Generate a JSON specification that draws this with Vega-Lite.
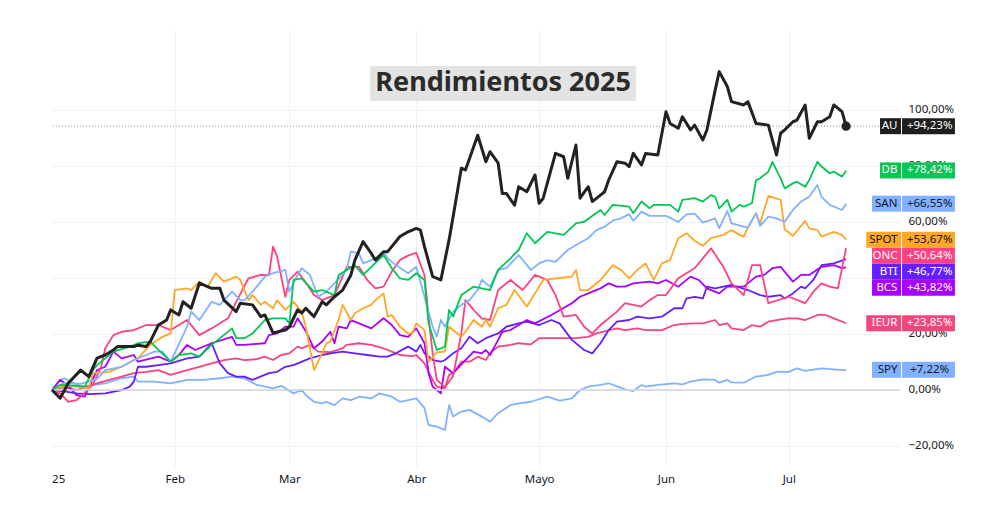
{
"$schema": "https://vega.github.io/schema/vega-lite/v6.json",
"width": 848, "height": 436,
"autosize": {"type": "none"},
"padding": {"left": 52, "top": 30, "right": 100, "bottom": 40},
"background": "white",
"config": {"view": {"stroke": null}, "font": "Noto Sans", "axis": {"labelFont": "Noto Sans", "labelFontSize": 11.5, "labelColor": "#131722"}},
"datasets": {
"lines": [
{"s":"SPY","d":"2025-01-02","v":0},{"s":"SPY","d":"2025-01-04","v":3.6},{"s":"SPY","d":"2025-01-05","v":4.2},{"s":"SPY","d":"2025-01-09","v":1.2},{"s":"SPY","d":"2025-01-15","v":2.4},{"s":"SPY","d":"2025-01-19","v":4.2},{"s":"SPY","d":"2025-01-22","v":4.8},{"s":"SPY","d":"2025-01-23","v":3},{"s":"SPY","d":"2025-01-27","v":3},{"s":"SPY","d":"2025-01-31","v":2.4},{"s":"SPY","d":"2025-02-04","v":3.6},{"s":"SPY","d":"2025-02-08","v":3.6},{"s":"SPY","d":"2025-02-12","v":4.2},{"s":"SPY","d":"2025-02-15","v":4.8},{"s":"SPY","d":"2025-02-18","v":4.2},{"s":"SPY","d":"2025-02-21","v":1.8},{"s":"SPY","d":"2025-02-25","v":0.6},{"s":"SPY","d":"2025-02-27","v":1.5},{"s":"SPY","d":"2025-03-02","v":-1.2},{"s":"SPY","d":"2025-03-04","v":0},{"s":"SPY","d":"2025-03-05","v":-1.8},{"s":"SPY","d":"2025-03-07","v":-4.2},{"s":"SPY","d":"2025-03-09","v":-4.8},{"s":"SPY","d":"2025-03-10","v":-4.2},{"s":"SPY","d":"2025-03-12","v":-5.4},{"s":"SPY","d":"2025-03-14","v":-3},{"s":"SPY","d":"2025-03-16","v":-3.6},{"s":"SPY","d":"2025-03-18","v":-2.4},{"s":"SPY","d":"2025-03-21","v":-3},{"s":"SPY","d":"2025-03-23","v":-1.2},{"s":"SPY","d":"2025-03-26","v":-2.4},{"s":"SPY","d":"2025-03-28","v":-4.2},{"s":"SPY","d":"2025-04-01","v":-3},{"s":"SPY","d":"2025-04-03","v":-6.5},{"s":"SPY","d":"2025-04-04","v":-12.5},{"s":"SPY","d":"2025-04-06","v":-13.1},{"s":"SPY","d":"2025-04-08","v":-14.3},{"s":"SPY","d":"2025-04-09","v":-5.4},{"s":"SPY","d":"2025-04-10","v":-9.5},{"s":"SPY","d":"2025-04-12","v":-7.7},{"s":"SPY","d":"2025-04-14","v":-7.1},{"s":"SPY","d":"2025-04-17","v":-9.5},{"s":"SPY","d":"2025-04-19","v":-11.3},{"s":"SPY","d":"2025-04-21","v":-8.3},{"s":"SPY","d":"2025-04-24","v":-5.4},{"s":"SPY","d":"2025-04-26","v":-4.8},{"s":"SPY","d":"2025-04-29","v":-4.2},{"s":"SPY","d":"2025-05-03","v":-2.4},{"s":"SPY","d":"2025-05-06","v":-3.8},{"s":"SPY","d":"2025-05-09","v":-3},{"s":"SPY","d":"2025-05-11","v":0},{"s":"SPY","d":"2025-05-13","v":1.2},{"s":"SPY","d":"2025-05-16","v":1.8},{"s":"SPY","d":"2025-05-18","v":2.4},{"s":"SPY","d":"2025-05-22","v":0.2},{"s":"SPY","d":"2025-05-24","v":-0.4},{"s":"SPY","d":"2025-05-26","v":1.8},{"s":"SPY","d":"2025-05-27","v":1.2},{"s":"SPY","d":"2025-05-30","v":1.8},{"s":"SPY","d":"2025-06-03","v":2.4},{"s":"SPY","d":"2025-06-05","v":2},{"s":"SPY","d":"2025-06-07","v":3},{"s":"SPY","d":"2025-06-10","v":3.8},{"s":"SPY","d":"2025-06-13","v":3.6},{"s":"SPY","d":"2025-06-14","v":2.6},{"s":"SPY","d":"2025-06-16","v":3.6},{"s":"SPY","d":"2025-06-17","v":2.7},{"s":"SPY","d":"2025-06-20","v":2.6},{"s":"SPY","d":"2025-06-23","v":4.8},{"s":"SPY","d":"2025-06-26","v":5.4},{"s":"SPY","d":"2025-06-28","v":6.5},{"s":"SPY","d":"2025-07-01","v":6.5},{"s":"SPY","d":"2025-07-03","v":7.7},{"s":"SPY","d":"2025-07-05","v":6.8},{"s":"SPY","d":"2025-07-09","v":7.7},{"s":"SPY","d":"2025-07-12","v":7.4},{"s":"SPY","d":"2025-07-14","v":7.1},{"s":"SPY","d":"2025-07-15","v":7.22},
{"s":"IEUR","d":"2025-01-02","v":0},{"s":"IEUR","d":"2025-01-05","v":1},{"s":"IEUR","d":"2025-01-08","v":0},{"s":"IEUR","d":"2025-01-13","v":2.4},{"s":"IEUR","d":"2025-01-16","v":3.6},{"s":"IEUR","d":"2025-01-19","v":4.8},{"s":"IEUR","d":"2025-01-22","v":6},{"s":"IEUR","d":"2025-01-25","v":6.5},{"s":"IEUR","d":"2025-01-28","v":7.1},{"s":"IEUR","d":"2025-01-31","v":5.4},{"s":"IEUR","d":"2025-02-04","v":7.1},{"s":"IEUR","d":"2025-02-07","v":8.3},{"s":"IEUR","d":"2025-02-10","v":9.5},{"s":"IEUR","d":"2025-02-13","v":10.7},{"s":"IEUR","d":"2025-02-16","v":11.3},{"s":"IEUR","d":"2025-02-18","v":10.7},{"s":"IEUR","d":"2025-02-21","v":11},{"s":"IEUR","d":"2025-02-23","v":11.9},{"s":"IEUR","d":"2025-02-25","v":10.7},{"s":"IEUR","d":"2025-02-27","v":12.5},{"s":"IEUR","d":"2025-03-01","v":13.1},{"s":"IEUR","d":"2025-03-03","v":15.5},{"s":"IEUR","d":"2025-03-04","v":14.9},{"s":"IEUR","d":"2025-03-06","v":16.1},{"s":"IEUR","d":"2025-03-08","v":13.7},{"s":"IEUR","d":"2025-03-11","v":13.5},{"s":"IEUR","d":"2025-03-14","v":14.9},{"s":"IEUR","d":"2025-03-15","v":16.1},{"s":"IEUR","d":"2025-03-18","v":16.7},{"s":"IEUR","d":"2025-03-21","v":16.1},{"s":"IEUR","d":"2025-03-24","v":14.9},{"s":"IEUR","d":"2025-03-26","v":13.7},{"s":"IEUR","d":"2025-03-28","v":12.5},{"s":"IEUR","d":"2025-03-31","v":12.1},{"s":"IEUR","d":"2025-04-01","v":12.5},{"s":"IEUR","d":"2025-04-03","v":9.5},{"s":"IEUR","d":"2025-04-05","v":3.6},{"s":"IEUR","d":"2025-04-06","v":1.2},{"s":"IEUR","d":"2025-04-08","v":0.6},{"s":"IEUR","d":"2025-04-09","v":5.4},{"s":"IEUR","d":"2025-04-10","v":6},{"s":"IEUR","d":"2025-04-12","v":10.1},{"s":"IEUR","d":"2025-04-14","v":10.1},{"s":"IEUR","d":"2025-04-16","v":11.9},{"s":"IEUR","d":"2025-04-18","v":10.7},{"s":"IEUR","d":"2025-04-19","v":13.1},{"s":"IEUR","d":"2025-04-21","v":15.5},{"s":"IEUR","d":"2025-04-24","v":16.1},{"s":"IEUR","d":"2025-04-26","v":16.7},{"s":"IEUR","d":"2025-04-29","v":16.3},{"s":"IEUR","d":"2025-05-01","v":18.5},{"s":"IEUR","d":"2025-05-05","v":18.5},{"s":"IEUR","d":"2025-05-10","v":18.5},{"s":"IEUR","d":"2025-05-13","v":19},{"s":"IEUR","d":"2025-05-15","v":20.2},{"s":"IEUR","d":"2025-05-20","v":22},{"s":"IEUR","d":"2025-05-22","v":21.4},{"s":"IEUR","d":"2025-05-25","v":22},{"s":"IEUR","d":"2025-05-27","v":21.4},{"s":"IEUR","d":"2025-05-31","v":21.4},{"s":"IEUR","d":"2025-06-03","v":23.2},{"s":"IEUR","d":"2025-06-05","v":23.6},{"s":"IEUR","d":"2025-06-08","v":23.8},{"s":"IEUR","d":"2025-06-10","v":23.8},{"s":"IEUR","d":"2025-06-13","v":25},{"s":"IEUR","d":"2025-06-14","v":23.2},{"s":"IEUR","d":"2025-06-16","v":23.8},{"s":"IEUR","d":"2025-06-17","v":22},{"s":"IEUR","d":"2025-06-20","v":21.4},{"s":"IEUR","d":"2025-06-22","v":23.2},{"s":"IEUR","d":"2025-06-24","v":22.6},{"s":"IEUR","d":"2025-06-26","v":24.4},{"s":"IEUR","d":"2025-06-29","v":25.2},{"s":"IEUR","d":"2025-07-01","v":25.6},{"s":"IEUR","d":"2025-07-03","v":25.6},{"s":"IEUR","d":"2025-07-05","v":25},{"s":"IEUR","d":"2025-07-08","v":26.8},{"s":"IEUR","d":"2025-07-10","v":26.8},{"s":"IEUR","d":"2025-07-12","v":25.6},{"s":"IEUR","d":"2025-07-15","v":23.85},
{"s":"BTI","d":"2025-01-02","v":0},{"s":"BTI","d":"2025-01-05","v":-0.5},{"s":"BTI","d":"2025-01-08","v":-1.2},{"s":"BTI","d":"2025-01-11","v":-1.5},{"s":"BTI","d":"2025-01-15","v":-1.2},{"s":"BTI","d":"2025-01-19","v":0},{"s":"BTI","d":"2025-01-21","v":1.2},{"s":"BTI","d":"2025-01-22","v":3},{"s":"BTI","d":"2025-01-23","v":8.3},{"s":"BTI","d":"2025-01-25","v":8.3},{"s":"BTI","d":"2025-01-28","v":8.9},{"s":"BTI","d":"2025-01-31","v":9.5},{"s":"BTI","d":"2025-02-04","v":11.3},{"s":"BTI","d":"2025-02-07","v":11.9},{"s":"BTI","d":"2025-02-10","v":16.7},{"s":"BTI","d":"2025-02-12","v":9.5},{"s":"BTI","d":"2025-02-14","v":6},{"s":"BTI","d":"2025-02-16","v":4.8},{"s":"BTI","d":"2025-02-18","v":4.8},{"s":"BTI","d":"2025-02-20","v":3.6},{"s":"BTI","d":"2025-02-24","v":6},{"s":"BTI","d":"2025-02-26","v":6.5},{"s":"BTI","d":"2025-02-28","v":8.3},{"s":"BTI","d":"2025-03-02","v":8.9},{"s":"BTI","d":"2025-03-06","v":11.3},{"s":"BTI","d":"2025-03-09","v":12.5},{"s":"BTI","d":"2025-03-11","v":13.1},{"s":"BTI","d":"2025-03-14","v":13.7},{"s":"BTI","d":"2025-03-17","v":13.1},{"s":"BTI","d":"2025-03-20","v":12.5},{"s":"BTI","d":"2025-03-23","v":11.9},{"s":"BTI","d":"2025-03-25","v":11.9},{"s":"BTI","d":"2025-03-27","v":13.1},{"s":"BTI","d":"2025-03-30","v":15.5},{"s":"BTI","d":"2025-04-01","v":13.7},{"s":"BTI","d":"2025-04-02","v":16.1},{"s":"BTI","d":"2025-04-03","v":13.1},{"s":"BTI","d":"2025-04-05","v":10.7},{"s":"BTI","d":"2025-04-07","v":10.1},{"s":"BTI","d":"2025-04-08","v":10.7},{"s":"BTI","d":"2025-04-10","v":13.1},{"s":"BTI","d":"2025-04-12","v":14.9},{"s":"BTI","d":"2025-04-14","v":19},{"s":"BTI","d":"2025-04-16","v":16.7},{"s":"BTI","d":"2025-04-18","v":18.5},{"s":"BTI","d":"2025-04-21","v":20.2},{"s":"BTI","d":"2025-04-23","v":22.6},{"s":"BTI","d":"2025-04-26","v":23.8},{"s":"BTI","d":"2025-04-28","v":24.4},{"s":"BTI","d":"2025-05-01","v":23.2},{"s":"BTI","d":"2025-05-04","v":25},{"s":"BTI","d":"2025-05-06","v":23.8},{"s":"BTI","d":"2025-05-09","v":17.9},{"s":"BTI","d":"2025-05-12","v":14.3},{"s":"BTI","d":"2025-05-14","v":13.1},{"s":"BTI","d":"2025-05-16","v":16.7},{"s":"BTI","d":"2025-05-18","v":21.4},{"s":"BTI","d":"2025-05-20","v":24.4},{"s":"BTI","d":"2025-05-23","v":25},{"s":"BTI","d":"2025-05-25","v":26.2},{"s":"BTI","d":"2025-05-28","v":25.6},{"s":"BTI","d":"2025-05-31","v":26.2},{"s":"BTI","d":"2025-06-03","v":29.2},{"s":"BTI","d":"2025-06-05","v":29.2},{"s":"BTI","d":"2025-06-06","v":32.7},{"s":"BTI","d":"2025-06-08","v":33.3},{"s":"BTI","d":"2025-06-10","v":32.7},{"s":"BTI","d":"2025-06-11","v":36.9},{"s":"BTI","d":"2025-06-13","v":36.3},{"s":"BTI","d":"2025-06-15","v":36.9},{"s":"BTI","d":"2025-06-17","v":37.5},{"s":"BTI","d":"2025-06-21","v":35.7},{"s":"BTI","d":"2025-06-24","v":33.9},{"s":"BTI","d":"2025-06-26","v":33.3},{"s":"BTI","d":"2025-06-29","v":33.9},{"s":"BTI","d":"2025-06-30","v":32.7},{"s":"BTI","d":"2025-07-02","v":34.5},{"s":"BTI","d":"2025-07-04","v":36.9},{"s":"BTI","d":"2025-07-05","v":36.3},{"s":"BTI","d":"2025-07-07","v":39.3},{"s":"BTI","d":"2025-07-09","v":44.6},{"s":"BTI","d":"2025-07-12","v":45.2},{"s":"BTI","d":"2025-07-15","v":46.77},
{"s":"BCS","d":"2025-01-02","v":0},{"s":"BCS","d":"2025-01-04","v":3.6},{"s":"BCS","d":"2025-01-06","v":1.5},{"s":"BCS","d":"2025-01-08","v":-1.8},{"s":"BCS","d":"2025-01-10","v":-2.4},{"s":"BCS","d":"2025-01-13","v":7.1},{"s":"BCS","d":"2025-01-15","v":8.3},{"s":"BCS","d":"2025-01-17","v":13.7},{"s":"BCS","d":"2025-01-19","v":11.3},{"s":"BCS","d":"2025-01-22","v":12.5},{"s":"BCS","d":"2025-01-23","v":10.1},{"s":"BCS","d":"2025-01-28","v":11.9},{"s":"BCS","d":"2025-01-31","v":10.1},{"s":"BCS","d":"2025-02-02","v":12.5},{"s":"BCS","d":"2025-02-04","v":16.1},{"s":"BCS","d":"2025-02-06","v":14.3},{"s":"BCS","d":"2025-02-07","v":14.9},{"s":"BCS","d":"2025-02-10","v":16.7},{"s":"BCS","d":"2025-02-15","v":19},{"s":"BCS","d":"2025-02-16","v":16.1},{"s":"BCS","d":"2025-02-18","v":16.1},{"s":"BCS","d":"2025-02-23","v":16.7},{"s":"BCS","d":"2025-02-24","v":19.6},{"s":"BCS","d":"2025-02-26","v":20.2},{"s":"BCS","d":"2025-02-28","v":22.6},{"s":"BCS","d":"2025-03-02","v":22.6},{"s":"BCS","d":"2025-03-03","v":25.6},{"s":"BCS","d":"2025-03-05","v":21},{"s":"BCS","d":"2025-03-07","v":14.9},{"s":"BCS","d":"2025-03-09","v":17.3},{"s":"BCS","d":"2025-03-11","v":20.8},{"s":"BCS","d":"2025-03-12","v":16.7},{"s":"BCS","d":"2025-03-13","v":22.6},{"s":"BCS","d":"2025-03-15","v":22},{"s":"BCS","d":"2025-03-16","v":25},{"s":"BCS","d":"2025-03-18","v":23.8},{"s":"BCS","d":"2025-03-21","v":22},{"s":"BCS","d":"2025-03-24","v":25.6},{"s":"BCS","d":"2025-03-26","v":23.2},{"s":"BCS","d":"2025-03-28","v":19.6},{"s":"BCS","d":"2025-03-30","v":19},{"s":"BCS","d":"2025-04-01","v":22},{"s":"BCS","d":"2025-04-03","v":16.7},{"s":"BCS","d":"2025-04-04","v":6},{"s":"BCS","d":"2025-04-05","v":1.2},{"s":"BCS","d":"2025-04-07","v":-1.2},{"s":"BCS","d":"2025-04-08","v":8.3},{"s":"BCS","d":"2025-04-10","v":6},{"s":"BCS","d":"2025-04-13","v":10.7},{"s":"BCS","d":"2025-04-15","v":13.7},{"s":"BCS","d":"2025-04-17","v":13.1},{"s":"BCS","d":"2025-04-18","v":14.3},{"s":"BCS","d":"2025-04-19","v":12.5},{"s":"BCS","d":"2025-04-21","v":17.9},{"s":"BCS","d":"2025-04-22","v":20.8},{"s":"BCS","d":"2025-04-24","v":21.4},{"s":"BCS","d":"2025-04-28","v":25},{"s":"BCS","d":"2025-04-30","v":23.8},{"s":"BCS","d":"2025-05-04","v":26.8},{"s":"BCS","d":"2025-05-09","v":31},{"s":"BCS","d":"2025-05-11","v":33.3},{"s":"BCS","d":"2025-05-13","v":34.5},{"s":"BCS","d":"2025-05-16","v":36.3},{"s":"BCS","d":"2025-05-18","v":38.1},{"s":"BCS","d":"2025-05-20","v":36.9},{"s":"BCS","d":"2025-05-22","v":36.9},{"s":"BCS","d":"2025-05-24","v":38.1},{"s":"BCS","d":"2025-05-28","v":38.7},{"s":"BCS","d":"2025-05-30","v":38.1},{"s":"BCS","d":"2025-06-01","v":39.3},{"s":"BCS","d":"2025-06-04","v":36.9},{"s":"BCS","d":"2025-06-07","v":40.5},{"s":"BCS","d":"2025-06-09","v":39.3},{"s":"BCS","d":"2025-06-11","v":36.3},{"s":"BCS","d":"2025-06-14","v":34.5},{"s":"BCS","d":"2025-06-16","v":36.9},{"s":"BCS","d":"2025-06-20","v":36.9},{"s":"BCS","d":"2025-06-23","v":40.5},{"s":"BCS","d":"2025-06-25","v":41.1},{"s":"BCS","d":"2025-06-27","v":43.5},{"s":"BCS","d":"2025-06-29","v":44},{"s":"BCS","d":"2025-07-02","v":38.7},{"s":"BCS","d":"2025-07-04","v":41.1},{"s":"BCS","d":"2025-07-06","v":41.1},{"s":"BCS","d":"2025-07-09","v":44},{"s":"BCS","d":"2025-07-12","v":44.6},{"s":"BCS","d":"2025-07-14","v":43.5},{"s":"BCS","d":"2025-07-15","v":43.82},
{"s":"ONC","d":"2025-01-02","v":0},{"s":"ONC","d":"2025-01-04","v":-1.2},{"s":"ONC","d":"2025-01-06","v":-4.2},{"s":"ONC","d":"2025-01-08","v":-3.6},{"s":"ONC","d":"2025-01-10","v":-1},{"s":"ONC","d":"2025-01-12","v":2},{"s":"ONC","d":"2025-01-14","v":8.3},{"s":"ONC","d":"2025-01-15","v":14.9},{"s":"ONC","d":"2025-01-17","v":19.6},{"s":"ONC","d":"2025-01-19","v":20.8},{"s":"ONC","d":"2025-01-22","v":21.4},{"s":"ONC","d":"2025-01-25","v":23.2},{"s":"ONC","d":"2025-01-28","v":23.2},{"s":"ONC","d":"2025-01-31","v":21.4},{"s":"ONC","d":"2025-02-04","v":25},{"s":"ONC","d":"2025-02-07","v":19.6},{"s":"ONC","d":"2025-02-10","v":22},{"s":"ONC","d":"2025-02-14","v":25.6},{"s":"ONC","d":"2025-02-16","v":31.5},{"s":"ONC","d":"2025-02-19","v":39.9},{"s":"ONC","d":"2025-02-22","v":41.1},{"s":"ONC","d":"2025-02-24","v":41},{"s":"ONC","d":"2025-02-25","v":51.2},{"s":"ONC","d":"2025-02-26","v":47.6},{"s":"ONC","d":"2025-02-28","v":33.3},{"s":"ONC","d":"2025-03-01","v":39.3},{"s":"ONC","d":"2025-03-03","v":42.3},{"s":"ONC","d":"2025-03-05","v":38.4},{"s":"ONC","d":"2025-03-07","v":33.9},{"s":"ONC","d":"2025-03-09","v":32.1},{"s":"ONC","d":"2025-03-12","v":33.9},{"s":"ONC","d":"2025-03-14","v":40.5},{"s":"ONC","d":"2025-03-15","v":44},{"s":"ONC","d":"2025-03-18","v":44},{"s":"ONC","d":"2025-03-20","v":39.3},{"s":"ONC","d":"2025-03-22","v":36.3},{"s":"ONC","d":"2025-03-24","v":36.9},{"s":"ONC","d":"2025-03-26","v":42.3},{"s":"ONC","d":"2025-03-28","v":46.4},{"s":"ONC","d":"2025-03-30","v":48},{"s":"ONC","d":"2025-04-01","v":49},{"s":"ONC","d":"2025-04-03","v":41},{"s":"ONC","d":"2025-04-04","v":26},{"s":"ONC","d":"2025-04-05","v":13.1},{"s":"ONC","d":"2025-04-06","v":3.6},{"s":"ONC","d":"2025-04-08","v":1},{"s":"ONC","d":"2025-04-10","v":5},{"s":"ONC","d":"2025-04-12","v":20.2},{"s":"ONC","d":"2025-04-13","v":32.1},{"s":"ONC","d":"2025-04-15","v":28.6},{"s":"ONC","d":"2025-04-17","v":25.6},{"s":"ONC","d":"2025-04-19","v":25},{"s":"ONC","d":"2025-04-21","v":35.7},{"s":"ONC","d":"2025-04-24","v":39.3},{"s":"ONC","d":"2025-04-27","v":35.7},{"s":"ONC","d":"2025-04-30","v":41.1},{"s":"ONC","d":"2025-05-03","v":39.3},{"s":"ONC","d":"2025-05-05","v":33.9},{"s":"ONC","d":"2025-05-07","v":26.2},{"s":"ONC","d":"2025-05-10","v":26.8},{"s":"ONC","d":"2025-05-12","v":22.6},{"s":"ONC","d":"2025-05-14","v":20.2},{"s":"ONC","d":"2025-05-16","v":23.2},{"s":"ONC","d":"2025-05-20","v":28},{"s":"ONC","d":"2025-05-22","v":31},{"s":"ONC","d":"2025-05-26","v":29.8},{"s":"ONC","d":"2025-05-28","v":32.1},{"s":"ONC","d":"2025-05-30","v":33.9},{"s":"ONC","d":"2025-06-01","v":33.9},{"s":"ONC","d":"2025-06-04","v":39.9},{"s":"ONC","d":"2025-06-08","v":43.5},{"s":"ONC","d":"2025-06-12","v":50.6},{"s":"ONC","d":"2025-06-15","v":44},{"s":"ONC","d":"2025-06-17","v":38.1},{"s":"ONC","d":"2025-06-20","v":33.9},{"s":"ONC","d":"2025-06-22","v":44.6},{"s":"ONC","d":"2025-06-24","v":44.6},{"s":"ONC","d":"2025-06-26","v":31},{"s":"ONC","d":"2025-07-01","v":33.3},{"s":"ONC","d":"2025-07-05","v":31},{"s":"ONC","d":"2025-07-07","v":35.1},{"s":"ONC","d":"2025-07-09","v":38.1},{"s":"ONC","d":"2025-07-11","v":36.9},{"s":"ONC","d":"2025-07-13","v":36.3},{"s":"ONC","d":"2025-07-15","v":50.64},
{"s":"SPOT","d":"2025-01-02","v":0},{"s":"SPOT","d":"2025-01-05","v":1.5},{"s":"SPOT","d":"2025-01-08","v":1.2},{"s":"SPOT","d":"2025-01-11","v":0.6},{"s":"SPOT","d":"2025-01-12","v":6},{"s":"SPOT","d":"2025-01-16","v":6.5},{"s":"SPOT","d":"2025-01-19","v":8.3},{"s":"SPOT","d":"2025-01-22","v":10.7},{"s":"SPOT","d":"2025-01-23","v":11.3},{"s":"SPOT","d":"2025-01-26","v":16.1},{"s":"SPOT","d":"2025-01-29","v":19},{"s":"SPOT","d":"2025-01-31","v":20.2},{"s":"SPOT","d":"2025-02-01","v":35.7},{"s":"SPOT","d":"2025-02-04","v":36.3},{"s":"SPOT","d":"2025-02-05","v":35.7},{"s":"SPOT","d":"2025-02-07","v":38.7},{"s":"SPOT","d":"2025-02-09","v":36.9},{"s":"SPOT","d":"2025-02-11","v":41.7},{"s":"SPOT","d":"2025-02-13","v":38.7},{"s":"SPOT","d":"2025-02-16","v":40.5},{"s":"SPOT","d":"2025-02-17","v":39.3},{"s":"SPOT","d":"2025-02-19","v":32.1},{"s":"SPOT","d":"2025-02-20","v":33.9},{"s":"SPOT","d":"2025-02-22","v":30.4},{"s":"SPOT","d":"2025-02-23","v":31.5},{"s":"SPOT","d":"2025-02-25","v":29.2},{"s":"SPOT","d":"2025-02-26","v":32.1},{"s":"SPOT","d":"2025-02-28","v":28.6},{"s":"SPOT","d":"2025-03-02","v":31.5},{"s":"SPOT","d":"2025-03-04","v":28},{"s":"SPOT","d":"2025-03-05","v":22.6},{"s":"SPOT","d":"2025-03-06","v":14.9},{"s":"SPOT","d":"2025-03-07","v":7.1},{"s":"SPOT","d":"2025-03-09","v":13.1},{"s":"SPOT","d":"2025-03-10","v":16.7},{"s":"SPOT","d":"2025-03-11","v":17.3},{"s":"SPOT","d":"2025-03-13","v":25},{"s":"SPOT","d":"2025-03-14","v":30.4},{"s":"SPOT","d":"2025-03-16","v":25},{"s":"SPOT","d":"2025-03-17","v":27.4},{"s":"SPOT","d":"2025-03-19","v":29.2},{"s":"SPOT","d":"2025-03-21","v":30.4},{"s":"SPOT","d":"2025-03-22","v":32.1},{"s":"SPOT","d":"2025-03-24","v":34.5},{"s":"SPOT","d":"2025-03-25","v":26.2},{"s":"SPOT","d":"2025-03-26","v":26.8},{"s":"SPOT","d":"2025-03-28","v":22.6},{"s":"SPOT","d":"2025-03-30","v":20.2},{"s":"SPOT","d":"2025-03-31","v":20.2},{"s":"SPOT","d":"2025-04-01","v":23.8},{"s":"SPOT","d":"2025-04-03","v":21.4},{"s":"SPOT","d":"2025-04-04","v":10.1},{"s":"SPOT","d":"2025-04-06","v":13.4},{"s":"SPOT","d":"2025-04-08","v":13.7},{"s":"SPOT","d":"2025-04-09","v":22.6},{"s":"SPOT","d":"2025-04-12","v":19},{"s":"SPOT","d":"2025-04-13","v":20.8},{"s":"SPOT","d":"2025-04-15","v":25},{"s":"SPOT","d":"2025-04-17","v":22.6},{"s":"SPOT","d":"2025-04-18","v":25},{"s":"SPOT","d":"2025-04-19","v":22.6},{"s":"SPOT","d":"2025-04-21","v":29.2},{"s":"SPOT","d":"2025-04-23","v":30.4},{"s":"SPOT","d":"2025-04-25","v":35.7},{"s":"SPOT","d":"2025-04-28","v":29.8},{"s":"SPOT","d":"2025-05-02","v":39.3},{"s":"SPOT","d":"2025-05-06","v":40},{"s":"SPOT","d":"2025-05-09","v":40.5},{"s":"SPOT","d":"2025-05-10","v":42.9},{"s":"SPOT","d":"2025-05-11","v":35.7},{"s":"SPOT","d":"2025-05-13","v":35.7},{"s":"SPOT","d":"2025-05-16","v":39.3},{"s":"SPOT","d":"2025-05-19","v":44.6},{"s":"SPOT","d":"2025-05-21","v":42.9},{"s":"SPOT","d":"2025-05-23","v":39.9},{"s":"SPOT","d":"2025-05-25","v":42.9},{"s":"SPOT","d":"2025-05-27","v":45.2},{"s":"SPOT","d":"2025-05-29","v":39.3},{"s":"SPOT","d":"2025-05-31","v":45.2},{"s":"SPOT","d":"2025-06-02","v":46.4},{"s":"SPOT","d":"2025-06-04","v":54.2},{"s":"SPOT","d":"2025-06-06","v":56},{"s":"SPOT","d":"2025-06-08","v":53.3},{"s":"SPOT","d":"2025-06-10","v":51.5},{"s":"SPOT","d":"2025-06-12","v":54.2},{"s":"SPOT","d":"2025-06-15","v":55.4},{"s":"SPOT","d":"2025-06-17","v":57.1},{"s":"SPOT","d":"2025-06-19","v":55.4},{"s":"SPOT","d":"2025-06-20","v":54.8},{"s":"SPOT","d":"2025-06-21","v":58},{"s":"SPOT","d":"2025-06-23","v":63.1},{"s":"SPOT","d":"2025-06-24","v":59.5},{"s":"SPOT","d":"2025-06-26","v":69.3},{"s":"SPOT","d":"2025-06-29","v":67.9},{"s":"SPOT","d":"2025-06-30","v":57.4},{"s":"SPOT","d":"2025-07-02","v":55},{"s":"SPOT","d":"2025-07-05","v":60.4},{"s":"SPOT","d":"2025-07-06","v":57.7},{"s":"SPOT","d":"2025-07-08","v":57.1},{"s":"SPOT","d":"2025-07-09","v":54.8},{"s":"SPOT","d":"2025-07-12","v":56.5},{"s":"SPOT","d":"2025-07-14","v":55.4},{"s":"SPOT","d":"2025-07-15","v":53.67},
{"s":"SAN","d":"2025-01-02","v":0},{"s":"SAN","d":"2025-01-05","v":2.5},{"s":"SAN","d":"2025-01-09","v":2.2},{"s":"SAN","d":"2025-01-13","v":4},{"s":"SAN","d":"2025-01-15","v":7.1},{"s":"SAN","d":"2025-01-19","v":8.3},{"s":"SAN","d":"2025-01-22","v":10.7},{"s":"SAN","d":"2025-01-25","v":12.5},{"s":"SAN","d":"2025-01-27","v":13.7},{"s":"SAN","d":"2025-01-29","v":13.7},{"s":"SAN","d":"2025-01-31","v":10.1},{"s":"SAN","d":"2025-02-04","v":22.6},{"s":"SAN","d":"2025-02-05","v":28},{"s":"SAN","d":"2025-02-07","v":25},{"s":"SAN","d":"2025-02-10","v":31.5},{"s":"SAN","d":"2025-02-12","v":30.4},{"s":"SAN","d":"2025-02-15","v":35.1},{"s":"SAN","d":"2025-02-17","v":32.1},{"s":"SAN","d":"2025-02-18","v":32.1},{"s":"SAN","d":"2025-02-20","v":35.1},{"s":"SAN","d":"2025-02-23","v":40.5},{"s":"SAN","d":"2025-02-25","v":41.7},{"s":"SAN","d":"2025-02-28","v":42.9},{"s":"SAN","d":"2025-03-01","v":35.1},{"s":"SAN","d":"2025-03-03","v":41.1},{"s":"SAN","d":"2025-03-04","v":43.5},{"s":"SAN","d":"2025-03-06","v":41.1},{"s":"SAN","d":"2025-03-08","v":33.3},{"s":"SAN","d":"2025-03-10","v":35.1},{"s":"SAN","d":"2025-03-12","v":38.1},{"s":"SAN","d":"2025-03-15","v":42.9},{"s":"SAN","d":"2025-03-16","v":49.4},{"s":"SAN","d":"2025-03-18","v":48.8},{"s":"SAN","d":"2025-03-19","v":45.2},{"s":"SAN","d":"2025-03-22","v":47},{"s":"SAN","d":"2025-03-24","v":49.4},{"s":"SAN","d":"2025-03-25","v":47},{"s":"SAN","d":"2025-03-27","v":44.6},{"s":"SAN","d":"2025-03-30","v":41.7},{"s":"SAN","d":"2025-04-01","v":44},{"s":"SAN","d":"2025-04-03","v":33.3},{"s":"SAN","d":"2025-04-05","v":22.6},{"s":"SAN","d":"2025-04-06","v":19},{"s":"SAN","d":"2025-04-07","v":25},{"s":"SAN","d":"2025-04-08","v":22.6},{"s":"SAN","d":"2025-04-10","v":28},{"s":"SAN","d":"2025-04-12","v":30.4},{"s":"SAN","d":"2025-04-14","v":32.1},{"s":"SAN","d":"2025-04-16","v":35.7},{"s":"SAN","d":"2025-04-17","v":39.3},{"s":"SAN","d":"2025-04-19","v":36.9},{"s":"SAN","d":"2025-04-21","v":42.9},{"s":"SAN","d":"2025-04-23","v":43.5},{"s":"SAN","d":"2025-04-26","v":48.2},{"s":"SAN","d":"2025-04-29","v":42.9},{"s":"SAN","d":"2025-05-01","v":45.2},{"s":"SAN","d":"2025-05-03","v":46.4},{"s":"SAN","d":"2025-05-05","v":45.8},{"s":"SAN","d":"2025-05-08","v":50},{"s":"SAN","d":"2025-05-10","v":51.8},{"s":"SAN","d":"2025-05-13","v":54.2},{"s":"SAN","d":"2025-05-15","v":57.1},{"s":"SAN","d":"2025-05-17","v":58.3},{"s":"SAN","d":"2025-05-19","v":60.5},{"s":"SAN","d":"2025-05-21","v":61.3},{"s":"SAN","d":"2025-05-23","v":62.8},{"s":"SAN","d":"2025-05-24","v":60.4},{"s":"SAN","d":"2025-05-26","v":63.7},{"s":"SAN","d":"2025-05-28","v":62.2},{"s":"SAN","d":"2025-06-01","v":62.2},{"s":"SAN","d":"2025-06-04","v":60},{"s":"SAN","d":"2025-06-06","v":62.7},{"s":"SAN","d":"2025-06-08","v":63},{"s":"SAN","d":"2025-06-10","v":59.8},{"s":"SAN","d":"2025-06-13","v":61.3},{"s":"SAN","d":"2025-06-14","v":57.7},{"s":"SAN","d":"2025-06-16","v":64},{"s":"SAN","d":"2025-06-17","v":59.5},{"s":"SAN","d":"2025-06-21","v":58},{"s":"SAN","d":"2025-06-23","v":63.1},{"s":"SAN","d":"2025-06-24","v":58.6},{"s":"SAN","d":"2025-06-26","v":61.9},{"s":"SAN","d":"2025-06-28","v":61.3},{"s":"SAN","d":"2025-06-30","v":60.1},{"s":"SAN","d":"2025-07-02","v":64.3},{"s":"SAN","d":"2025-07-04","v":67.3},{"s":"SAN","d":"2025-07-06","v":69},{"s":"SAN","d":"2025-07-08","v":73.2},{"s":"SAN","d":"2025-07-09","v":69},{"s":"SAN","d":"2025-07-11","v":66.1},{"s":"SAN","d":"2025-07-14","v":64.3},{"s":"SAN","d":"2025-07-15","v":66.55},
{"s":"DB","d":"2025-01-02","v":0},{"s":"DB","d":"2025-01-04","v":1.8},{"s":"DB","d":"2025-01-09","v":1.4},{"s":"DB","d":"2025-01-10","v":1.2},{"s":"DB","d":"2025-01-12","v":7.1},{"s":"DB","d":"2025-01-13","v":8.9},{"s":"DB","d":"2025-01-15","v":11.3},{"s":"DB","d":"2025-01-17","v":13.7},{"s":"DB","d":"2025-01-21","v":15.5},{"s":"DB","d":"2025-01-23","v":16.7},{"s":"DB","d":"2025-01-26","v":17.3},{"s":"DB","d":"2025-01-28","v":14.3},{"s":"DB","d":"2025-01-31","v":10.1},{"s":"DB","d":"2025-02-02","v":12.5},{"s":"DB","d":"2025-02-05","v":13.1},{"s":"DB","d":"2025-02-07","v":11.9},{"s":"DB","d":"2025-02-10","v":16.1},{"s":"DB","d":"2025-02-15","v":22},{"s":"DB","d":"2025-02-16","v":18.5},{"s":"DB","d":"2025-02-18","v":18.5},{"s":"DB","d":"2025-02-20","v":20.2},{"s":"DB","d":"2025-02-23","v":25},{"s":"DB","d":"2025-02-25","v":25.6},{"s":"DB","d":"2025-02-28","v":25.6},{"s":"DB","d":"2025-03-01","v":23.8},{"s":"DB","d":"2025-03-02","v":39.3},{"s":"DB","d":"2025-03-04","v":39.9},{"s":"DB","d":"2025-03-07","v":35.1},{"s":"DB","d":"2025-03-09","v":35.7},{"s":"DB","d":"2025-03-12","v":33.9},{"s":"DB","d":"2025-03-13","v":41.1},{"s":"DB","d":"2025-03-17","v":44.6},{"s":"DB","d":"2025-03-19","v":41.1},{"s":"DB","d":"2025-03-24","v":48.2},{"s":"DB","d":"2025-03-26","v":43.5},{"s":"DB","d":"2025-03-28","v":39.9},{"s":"DB","d":"2025-03-30","v":39.3},{"s":"DB","d":"2025-04-01","v":41.7},{"s":"DB","d":"2025-04-03","v":39.3},{"s":"DB","d":"2025-04-04","v":23.8},{"s":"DB","d":"2025-04-06","v":14.3},{"s":"DB","d":"2025-04-08","v":15.5},{"s":"DB","d":"2025-04-09","v":28.6},{"s":"DB","d":"2025-04-10","v":26.2},{"s":"DB","d":"2025-04-12","v":33.9},{"s":"DB","d":"2025-04-15","v":36.9},{"s":"DB","d":"2025-04-17","v":36.3},{"s":"DB","d":"2025-04-19","v":35.7},{"s":"DB","d":"2025-04-21","v":42.9},{"s":"DB","d":"2025-04-24","v":47},{"s":"DB","d":"2025-04-26","v":50},{"s":"DB","d":"2025-04-28","v":56},{"s":"DB","d":"2025-04-30","v":52.4},{"s":"DB","d":"2025-05-03","v":56.5},{"s":"DB","d":"2025-05-07","v":55.4},{"s":"DB","d":"2025-05-10","v":59.5},{"s":"DB","d":"2025-05-12","v":60.1},{"s":"DB","d":"2025-05-16","v":64.3},{"s":"DB","d":"2025-05-17","v":62.5},{"s":"DB","d":"2025-05-19","v":66.1},{"s":"DB","d":"2025-05-23","v":65.5},{"s":"DB","d":"2025-05-24","v":63.1},{"s":"DB","d":"2025-05-26","v":67.3},{"s":"DB","d":"2025-05-28","v":64.9},{"s":"DB","d":"2025-05-29","v":66.1},{"s":"DB","d":"2025-06-02","v":66.1},{"s":"DB","d":"2025-06-04","v":63.7},{"s":"DB","d":"2025-06-05","v":67.9},{"s":"DB","d":"2025-06-08","v":68.5},{"s":"DB","d":"2025-06-10","v":67.3},{"s":"DB","d":"2025-06-12","v":69.6},{"s":"DB","d":"2025-06-13","v":69},{"s":"DB","d":"2025-06-14","v":64.9},{"s":"DB","d":"2025-06-16","v":67.9},{"s":"DB","d":"2025-06-17","v":63.7},{"s":"DB","d":"2025-06-19","v":66.1},{"s":"DB","d":"2025-06-20","v":65.5},{"s":"DB","d":"2025-06-22","v":66.7},{"s":"DB","d":"2025-06-23","v":75},{"s":"DB","d":"2025-06-24","v":75.6},{"s":"DB","d":"2025-06-26","v":78},{"s":"DB","d":"2025-06-27","v":81.5},{"s":"DB","d":"2025-06-29","v":75.6},{"s":"DB","d":"2025-06-30","v":72},{"s":"DB","d":"2025-07-02","v":73.8},{"s":"DB","d":"2025-07-03","v":74.4},{"s":"DB","d":"2025-07-05","v":72.6},{"s":"DB","d":"2025-07-06","v":75},{"s":"DB","d":"2025-07-08","v":81.5},{"s":"DB","d":"2025-07-09","v":79.8},{"s":"DB","d":"2025-07-11","v":77.4},{"s":"DB","d":"2025-07-12","v":78},{"s":"DB","d":"2025-07-14","v":76.2},{"s":"DB","d":"2025-07-15","v":78.42},
{"s":"AU","d":"2025-01-02","v":0},{"s":"AU","d":"2025-01-04","v":-2.9},{"s":"AU","d":"2025-01-06","v":2.5},{"s":"AU","d":"2025-01-09","v":7.1},{"s":"AU","d":"2025-01-11","v":4.8},{"s":"AU","d":"2025-01-13","v":11.4},{"s":"AU","d":"2025-01-15","v":12.5},{"s":"AU","d":"2025-01-17","v":14.3},{"s":"AU","d":"2025-01-18","v":15.5},{"s":"AU","d":"2025-01-22","v":15.5},{"s":"AU","d":"2025-01-23","v":16},{"s":"AU","d":"2025-01-25","v":15.5},{"s":"AU","d":"2025-01-26","v":17.3},{"s":"AU","d":"2025-01-28","v":23.2},{"s":"AU","d":"2025-01-30","v":25},{"s":"AU","d":"2025-01-31","v":28.6},{"s":"AU","d":"2025-02-02","v":26.8},{"s":"AU","d":"2025-02-03","v":31.5},{"s":"AU","d":"2025-02-05","v":29.2},{"s":"AU","d":"2025-02-07","v":38.2},{"s":"AU","d":"2025-02-10","v":36.3},{"s":"AU","d":"2025-02-12","v":36.3},{"s":"AU","d":"2025-02-13","v":32.1},{"s":"AU","d":"2025-02-16","v":28},{"s":"AU","d":"2025-02-17","v":31},{"s":"AU","d":"2025-02-20","v":30.4},{"s":"AU","d":"2025-02-22","v":26.2},{"s":"AU","d":"2025-02-23","v":26.8},{"s":"AU","d":"2025-02-25","v":20.4},{"s":"AU","d":"2025-02-28","v":21.4},{"s":"AU","d":"2025-03-01","v":22.6},{"s":"AU","d":"2025-03-03","v":28.6},{"s":"AU","d":"2025-03-04","v":27.5},{"s":"AU","d":"2025-03-05","v":29.2},{"s":"AU","d":"2025-03-07","v":26.2},{"s":"AU","d":"2025-03-09","v":31.5},{"s":"AU","d":"2025-03-10","v":30.4},{"s":"AU","d":"2025-03-12","v":33.3},{"s":"AU","d":"2025-03-14","v":35.7},{"s":"AU","d":"2025-03-16","v":41},{"s":"AU","d":"2025-03-17","v":46.4},{"s":"AU","d":"2025-03-19","v":53},{"s":"AU","d":"2025-03-21","v":48.8},{"s":"AU","d":"2025-03-22","v":46.4},{"s":"AU","d":"2025-03-24","v":49.4},{"s":"AU","d":"2025-03-25","v":49.4},{"s":"AU","d":"2025-03-26","v":51.2},{"s":"AU","d":"2025-03-28","v":54.8},{"s":"AU","d":"2025-03-30","v":56.5},{"s":"AU","d":"2025-04-01","v":57.7},{"s":"AU","d":"2025-04-02","v":57.1},{"s":"AU","d":"2025-04-03","v":51.2},{"s":"AU","d":"2025-04-05","v":40.5},{"s":"AU","d":"2025-04-07","v":39.3},{"s":"AU","d":"2025-04-09","v":53.6},{"s":"AU","d":"2025-04-10","v":62},{"s":"AU","d":"2025-04-12","v":79.2},{"s":"AU","d":"2025-04-13","v":78.6},{"s":"AU","d":"2025-04-14","v":82.7},{"s":"AU","d":"2025-04-16","v":91},{"s":"AU","d":"2025-04-18","v":81.5},{"s":"AU","d":"2025-04-19","v":85.1},{"s":"AU","d":"2025-04-21","v":81},{"s":"AU","d":"2025-04-22","v":70.2},{"s":"AU","d":"2025-04-23","v":70.2},{"s":"AU","d":"2025-04-25","v":66},{"s":"AU","d":"2025-04-26","v":72.6},{"s":"AU","d":"2025-04-28","v":70.8},{"s":"AU","d":"2025-04-30","v":76.8},{"s":"AU","d":"2025-05-01","v":66.7},{"s":"AU","d":"2025-05-02","v":68.5},{"s":"AU","d":"2025-05-05","v":84.5},{"s":"AU","d":"2025-05-07","v":83.3},{"s":"AU","d":"2025-05-08","v":75.6},{"s":"AU","d":"2025-05-10","v":87.5},{"s":"AU","d":"2025-05-11","v":68.5},{"s":"AU","d":"2025-05-13","v":72.6},{"s":"AU","d":"2025-05-14","v":67.3},{"s":"AU","d":"2025-05-16","v":69.6},{"s":"AU","d":"2025-05-17","v":70.8},{"s":"AU","d":"2025-05-18","v":75},{"s":"AU","d":"2025-05-20","v":81.5},{"s":"AU","d":"2025-05-22","v":81},{"s":"AU","d":"2025-05-23","v":79.8},{"s":"AU","d":"2025-05-24","v":84.5},{"s":"AU","d":"2025-05-26","v":80.4},{"s":"AU","d":"2025-05-27","v":84.5},{"s":"AU","d":"2025-05-30","v":83.9},{"s":"AU","d":"2025-06-01","v":99.4},{"s":"AU","d":"2025-06-02","v":95.2},{"s":"AU","d":"2025-06-04","v":93.5},{"s":"AU","d":"2025-06-05","v":97.6},{"s":"AU","d":"2025-06-07","v":92.9},{"s":"AU","d":"2025-06-08","v":94.6},{"s":"AU","d":"2025-06-10","v":89.3},{"s":"AU","d":"2025-06-11","v":92.9},{"s":"AU","d":"2025-06-13","v":107},{"s":"AU","d":"2025-06-14","v":113.7},{"s":"AU","d":"2025-06-16","v":108.3},{"s":"AU","d":"2025-06-17","v":103},{"s":"AU","d":"2025-06-20","v":101.8},{"s":"AU","d":"2025-06-21","v":103},{"s":"AU","d":"2025-06-23","v":95.2},{"s":"AU","d":"2025-06-26","v":94.6},{"s":"AU","d":"2025-06-28","v":83.9},{"s":"AU","d":"2025-06-29","v":91.7},{"s":"AU","d":"2025-06-30","v":92.9},{"s":"AU","d":"2025-07-02","v":95.8},{"s":"AU","d":"2025-07-03","v":96.4},{"s":"AU","d":"2025-07-05","v":101.8},{"s":"AU","d":"2025-07-06","v":89.9},{"s":"AU","d":"2025-07-08","v":95.8},{"s":"AU","d":"2025-07-09","v":95.8},{"s":"AU","d":"2025-07-11","v":97.6},{"s":"AU","d":"2025-07-12","v":101.8},{"s":"AU","d":"2025-07-14","v":99.4},{"s":"AU","d":"2025-07-15","v":94.23}
],
"badges": [
{"s":"AU","ly":94.23,"lab":"+94,23%"},
{"s":"DB","ly":78.42,"lab":"+78,42%"},
{"s":"SAN","ly":66.55,"lab":"+66,55%"},
{"s":"SPOT","ly":53.67,"lab":"+53,67%"},
{"s":"ONC","ly":47.96,"lab":"+50,64%"},
{"s":"BTI","ly":42.24,"lab":"+46,77%"},
{"s":"BCS","ly":36.53,"lab":"+43,82%"},
{"s":"IEUR","ly":23.85,"lab":"+23,85%"},
{"s":"SPY","ly":7.22,"lab":"+7,22%"}
]
},
"layer": [
{
"data": {"name": "lines"},
"transform": [{"filter": "datum.s !== 'AU'"}],
"mark": {"type": "line", "strokeWidth": 1.8, "strokeJoin": "round"},
"encoding": {
"x": {"field": "d", "type": "temporal", "title": null,
"scale": {"type": "utc", "domain": [{"year":2025,"month":1,"date":2,"utc":true},{"year":2025,"month":7,"date":28,"hours":4,"utc":true}]},
"axis": {"values": [{"year":2025,"month":1,"date":3,"hours":12,"utc":true},{"year":2025,"month":2,"date":1,"utc":true},{"year":2025,"month":3,"date":1,"utc":true},{"year":2025,"month":4,"date":1,"utc":true},{"year":2025,"month":5,"date":1,"utc":true},{"year":2025,"month":6,"date":1,"utc":true},{"year":2025,"month":7,"date":1,"utc":true}],
"labelExpr": "utcmonth(datum.value) == 0 ? '25' : ['','Feb','Mar','Abr','Mayo','Jun','Jul'][utcmonth(datum.value)]",
"ticks": false, "domain": false, "labelPadding": 7, "labelAlign": "center",
"gridColor": {"condition": {"test": "utcmonth(datum.value) == 0", "value": "transparent"}, "value": "#f0f1f4"}}},
"y": {"field": "v", "type": "quantitative", "title": null,
"scale": {"domain": [-27.143, 128.571], "nice": false, "zero": false},
"axis": {"orient": "right", "values": [-20, 0, 20, 40, 60, 80, 100],
"labelExpr": "replace(format(datum.value, '.2f'), '.', ',') + '%'",
"ticks": false, "domain": false, "labelPadding": 8, "gridColor": "#f0f1f4"}},
"color": {"field": "s", "type": "nominal", "legend": null,
"scale": {"domain": ["AU","DB","SAN","SPOT","ONC","BTI","BCS","IEUR","SPY"],
"range": ["#1e1e1e","#00c853","#82b1ff","#ffa726","#ff4081","#651fff","#aa00ff","#f6457d","#82b1ff"]}}
}
},
{
"data": {"values": [{}]},
"mark": {"type": "rule", "color": "#d1d4dc", "strokeWidth": 1.5},
"encoding": {"y": {"datum": 0}}
},
{
"data": {"values": [{}]},
"mark": {"type": "rule", "color": "#9598a1", "strokeWidth": 1, "strokeDash": [1, 2]},
"encoding": {"y": {"datum": 94.23}}
},
{
"data": {"name": "lines"},
"transform": [{"filter": "datum.s === 'AU'"}],
"mark": {"type": "line", "strokeWidth": 3, "color": "#222222", "strokeJoin": "round"},
"encoding": {
"x": {"field": "d", "type": "temporal", "title": null},
"y": {"field": "v", "type": "quantitative", "title": null}
}
},
{
"data": {"values": [{"d": "2025-07-15", "v": 94.23}]},
"mark": {"type": "circle", "size": 85, "color": "#222222", "opacity": 1},
"encoding": {
"x": {"field": "d", "type": "temporal", "title": null},
"y": {"field": "v", "type": "quantitative", "title": null}
}
},
{
"data": {"values": [{}]},
"mark": {"type": "rect", "color": "#e3e3e3"},
"encoding": {
"x": {"datum": {"year":2025,"month":3,"date":20,"hours":17,"utc":true}, "type": "temporal"},
"x2": {"datum": {"year":2025,"month":5,"date":24,"hours":17,"utc":true}},
"y": {"datum": 115.71, "type": "quantitative"},
"y2": {"datum": 103.21}
}
},
{
"data": {"values": [{}]},
"mark": {"type": "text", "text": "Rendimientos 2025", "fontSize": 27, "fontWeight": "bold", "color": "#2b2b2b", "align": "center", "baseline": "middle", "font": "Noto Sans"},
"encoding": {
"x": {"datum": {"year":2025,"month":4,"date":22,"hours":5,"utc":true}, "type": "temporal"},
"y": {"datum": 109.5, "type": "quantitative"}
}
},
{
"data": {"name": "badges"},
"transform": [{"filter": "length(datum.s) == 2"}],
"mark": {"type": "rect", "yOffset": -8, "y2Offset": 8},
"encoding": {
"x": {"datum": {"year":2025,"month":7,"date":23,"hours":7,"utc":true}, "type": "temporal"},
"x2": {"datum": {"year":2025,"month":7,"date":28,"hours":10,"utc":true}},
"y": {"field": "ly", "type": "quantitative", "title": null},
"y2": {"field": "ly"},
"color": {"field": "s", "type": "nominal", "legend": null}
}
},
{
"data": {"name": "badges"},
"transform": [{"filter": "length(datum.s) == 3"}],
"mark": {"type": "rect", "yOffset": -8, "y2Offset": 8},
"encoding": {
"x": {"datum": {"year":2025,"month":7,"date":21,"hours":8,"utc":true}, "type": "temporal"},
"x2": {"datum": {"year":2025,"month":7,"date":28,"hours":10,"utc":true}},
"y": {"field": "ly", "type": "quantitative", "title": null},
"y2": {"field": "ly"},
"color": {"field": "s", "type": "nominal", "legend": null}
}
},
{
"data": {"name": "badges"},
"transform": [{"filter": "length(datum.s) == 4"}],
"mark": {"type": "rect", "yOffset": -8, "y2Offset": 8},
"encoding": {
"x": {"datum": {"year":2025,"month":7,"date":19,"hours":22,"utc":true}, "type": "temporal"},
"x2": {"datum": {"year":2025,"month":7,"date":28,"hours":10,"utc":true}},
"y": {"field": "ly", "type": "quantitative", "title": null},
"y2": {"field": "ly"},
"color": {"field": "s", "type": "nominal", "legend": null}
}
},
{
"data": {"name": "badges"},
"mark": {"type": "rect", "yOffset": -8, "y2Offset": 8},
"encoding": {
"x": {"datum": {"year":2025,"month":7,"date":28,"hours":16,"utc":true}, "type": "temporal"},
"x2": {"datum": {"year":2025,"month":8,"date":10,"hours":14,"utc":true}},
"y": {"field": "ly", "type": "quantitative", "title": null},
"y2": {"field": "ly"},
"color": {"field": "s", "type": "nominal", "legend": null}
}
},
{
"data": {"name": "badges"},
"mark": {"type": "text", "align": "right", "baseline": "middle", "fontSize": 11.5, "font": "Noto Sans"},
"encoding": {
"x": {"datum": {"year":2025,"month":7,"date":27,"hours":13,"utc":true}, "type": "temporal"},
"y": {"field": "ly", "type": "quantitative", "title": null},
"text": {"field": "s"},
"color": {"condition": {"test": "indexof(['SAN','SPOT','SPY'], datum.s) >= 0", "value": "#131722"}, "value": "#ffffff"}
}
},
{
"data": {"name": "badges"},
"mark": {"type": "text", "align": "center", "baseline": "middle", "fontSize": 11.5, "font": "Noto Sans"},
"encoding": {
"x": {"datum": {"year":2025,"month":8,"date":4,"hours":10,"utc":true}, "type": "temporal"},
"y": {"field": "ly", "type": "quantitative", "title": null},
"text": {"field": "lab"},
"color": {"condition": {"test": "indexof(['SAN','SPOT','SPY'], datum.s) >= 0", "value": "#131722"}, "value": "#ffffff"}
}
}
]
}
